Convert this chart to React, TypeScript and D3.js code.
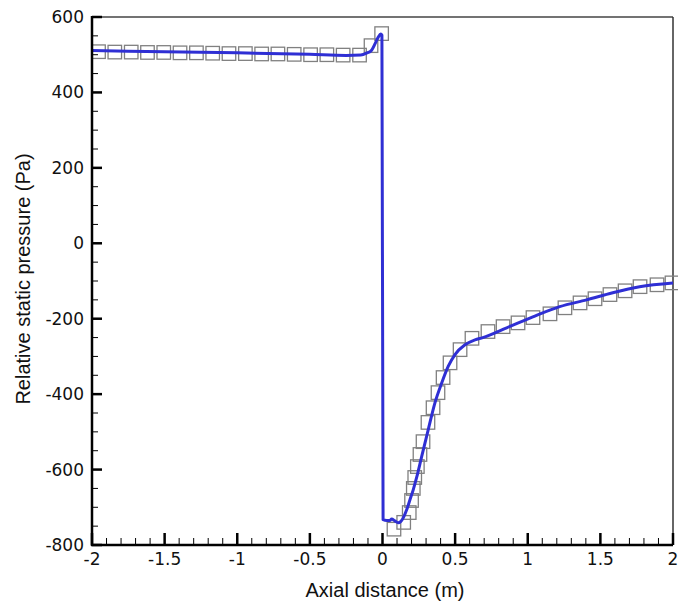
import * as d3 from "d3";

// simulation curve (solid blue)
const lineX = [-2, -1.5, -1.0, -0.5, -0.25, -0.15, -0.11, -0.075, -0.05, -0.03, -0.012, -0.004, 0.004, 0.03, 0.052, 0.063, 0.085, 0.109, 0.125, 0.143, 0.167, 0.189, 0.212, 0.235, 0.27, 0.315, 0.361, 0.408, 0.453, 0.499, 0.568, 0.637, 0.69, 0.855, 1.035, 1.22, 1.405, 1.585, 1.77, 2.0];
const lineY = [511, 508, 505, 501, 498, 499, 504, 512, 530, 546, 555, 552, -733, -735, -735, -731, -736, -741, -738, -728, -706, -680, -653, -621, -565, -494, -423, -370, -326, -295, -269, -256, -250, -224, -195, -168, -150, -131, -115, -105];

// reference points (open squares)
const squareX = [-1.955, -1.843, -1.730, -1.618, -1.506, -1.394, -1.281, -1.169, -1.057, -0.944, -0.832, -0.720, -0.608, -0.495, -0.383, -0.271, -0.158, -0.079, -0.006,
  0.079, 0.146, 0.184, 0.200, 0.212, 0.222, 0.240, 0.258, 0.279, 0.313, 0.348, 0.382, 0.417, 0.465, 0.534, 0.616,
  0.726, 0.83, 0.933, 1.036, 1.153, 1.256, 1.36, 1.463, 1.566, 1.67, 1.773, 1.89, 1.993];
const squareY = [508, 507, 507, 506, 506, 505, 505, 504, 503, 503, 502, 502, 501, 500, 500, 499, 499, 524, 556,
  -758, -740, -714, -682, -650, -621, -592, -560, -526, -475, -436, -396, -356, -317, -282, -252,
  -234, -221, -211, -197, -187, -171, -158, -147, -136, -126, -115, -110, -105];

const xTicks = [-2, -1.5, -1, -0.5, 0, 0.5, 1, 1.5, 2];
const yTicks = [-800, -600, -400, -200, 0, 200, 400, 600];

const W = 678;
const H = 607;
const left = 92;
const right = 673;
const top = 17;
const bottom = 545;

export default function App() {
  const x = d3.scaleLinear().domain([-2, 2]).range([left, right]);
  const y = d3.scaleLinear().domain([-800, 600]).range([bottom, top]);

  const xMinor = d3.range(-20, 21).map((i) => i / 10).filter((v) => !xTicks.includes(v));
  const yMinor = d3.range(-800, 601, 50).filter((v) => !yTicks.includes(v));

  const line = d3
    .line<number>()
    .x((_, i) => x(lineX[i]))
    .y((d) => y(d))
    .curve(d3.curveMonotoneX);

  const sq = 13.5;

  return (
    <svg width={W} height={H} style={{ position: "absolute", left: 0, top: 0, background: "#fff" }}>
      {/* frame top / right */}
      <line x1={left} x2={right} y1={top} y2={top} stroke="#444" strokeWidth={1.5} />
      <line x1={right} x2={right} y1={top} y2={bottom} stroke="#333" strokeWidth={1.5} />

      {/* markers */}
      {squareX.map((sx, i) => (
        <rect
          key={i}
          x={x(sx) - sq / 2}
          y={y(squareY[i]) - sq / 2}
          width={sq}
          height={sq}
          fill="none"
          stroke="#808080"
          strokeWidth={1.3}
        />
      ))}

      <path d={line(lineY) || ""} fill="none" stroke="#2f2fd4" strokeWidth={3} strokeLinejoin="round" />

      {/* x axis */}
      <line x1={left - 1} x2={right} y1={bottom} y2={bottom} stroke="#000" strokeWidth={2.5} />
      {xTicks.map((t) => (
        <g key={t}>
          <line x1={x(t)} x2={x(t)} y1={bottom} y2={bottom - 12} stroke="#000" strokeWidth={2.5} />
          <text x={x(t)} y={565} textAnchor="middle" fontFamily="DejaVu Sans" fontSize={17} fill="#111">
            {String(t)}
          </text>
        </g>
      ))}
      {xMinor.map((t) => (
        <line key={t} x1={x(t)} x2={x(t)} y1={bottom} y2={bottom - 7} stroke="#000" strokeWidth={1} />
      ))}

      {/* y axis */}
      <line x1={left} x2={left} y1={top - 1} y2={bottom + 1} stroke="#000" strokeWidth={2.5} />
      {yTicks.map((t) => (
        <g key={t}>
          <line x1={left} x2={left + 10} y1={y(t)} y2={y(t)} stroke="#000" strokeWidth={2.5} />
          <text x={84} y={y(t) + 6} textAnchor="end" fontFamily="DejaVu Sans" fontSize={17} fill="#111">
            {String(t)}
          </text>
        </g>
      ))}
      {yMinor.map((t) => (
        <line key={t} x1={left} x2={left + 6} y1={y(t)} y2={y(t)} stroke="#000" strokeWidth={1} />
      ))}

      <text x={385} y={597} textAnchor="middle" fontFamily="Liberation Sans" fontSize={20} fill="#111">
        Axial distance (m)
      </text>
      <text
        transform={`translate(30, ${(top + bottom) / 2 - 2}) rotate(-90)`}
        textAnchor="middle"
        fontFamily="Liberation Sans"
        fontSize={20}
        fill="#111"
      >
        Relative static pressure (Pa)
      </text>
    </svg>
  );
}
